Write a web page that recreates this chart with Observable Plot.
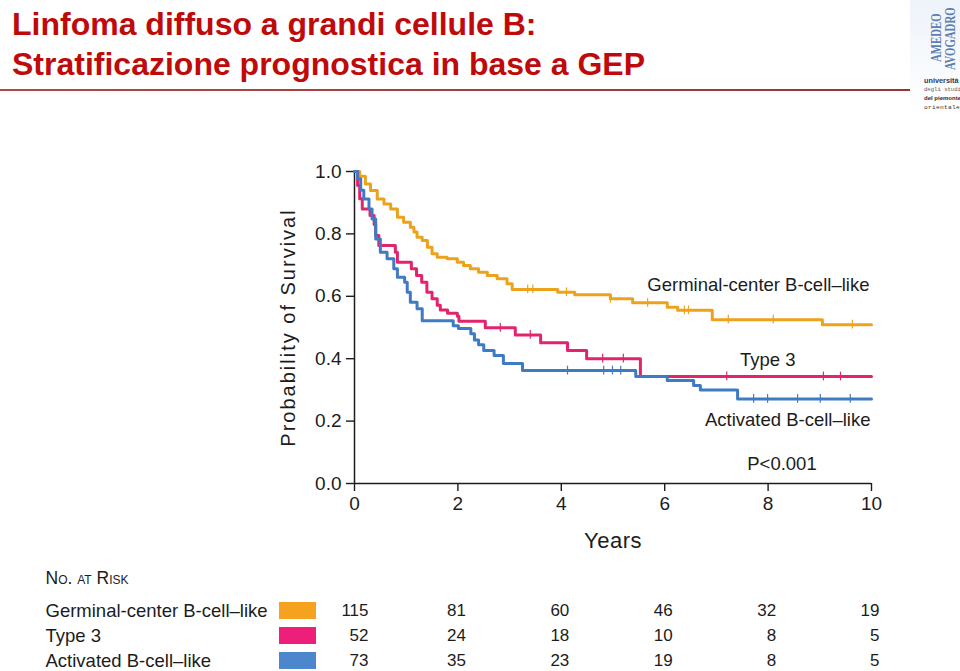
<!DOCTYPE html>
<html>
<head>
<meta charset="utf-8">
<script src="https://cdn.jsdelivr.net/npm/d3@7"></script>
<script src="https://cdn.jsdelivr.net/npm/@observablehq/plot@0.6"></script>
<style>
  body { margin: 0; background: #fff; width: 960px; height: 671px; overflow: hidden; font-family: "Liberation Sans", Arial, sans-serif; }
  #head { position: relative; height: 95px; }
  #title { position: absolute; left: 12px; top: 4px; font-weight: bold; font-size: 32px; line-height: 40px; color: #c00a0a; white-space: nowrap; }
  #rule { position: absolute; left: 0; top: 89px; width: 910px; height: 2px; background: linear-gradient(90deg, #b04848, #9a3434); }
  #logo { position: absolute; left: 910px; top: 0; width: 50px; height: 115px; background: linear-gradient(180deg, #eef3fa, #ffffff); overflow: hidden; }
  .v { position: absolute; transform: rotate(-90deg) scaleX(0.72); transform-origin: left top; font-family: "Liberation Serif", serif; font-weight: bold; color: #5b7fb3; white-space: nowrap; font-size: 15px; line-height: 15px; }
  .u { position: absolute; left: 14px; top: 76px; white-space: nowrap; line-height: 9px; }
  .u div { height: 9px; }
  .u .b1 { font-family: "Liberation Sans", sans-serif; font-weight: bold; font-size: 7.3px; color: #2e3a5a; }
  .u .m1 { font-family: "Liberation Mono", monospace; font-size: 5.6px; color: #6a5a4a; }
  .u .b2 { font-family: "Liberation Sans", sans-serif; font-weight: bold; font-size: 6px; color: #2e2a3a; }
  .u .m2 { font-family: "Liberation Mono", monospace; font-size: 6.2px; letter-spacing: 0.3px; color: #3a3030; }
  [aria-label="y-axis label"] { font-size: 20px; letter-spacing: 2px; }
  [aria-label="x-axis label"] { font-size: 22px; letter-spacing: 0.5px; }
</style>
</head>
<body>
<div id="head">
  <div id="title">Linfoma diffuso a grandi cellule B:<br>Stratificazione prognostica in base a GEP</div>
  <div id="rule"></div>
  <div id="logo">
    <div class="v" style="left:19px; top:62px;">AMEDEO</div>
    <div class="v" style="left:33px; top:70px;">AVOGADRO</div>
    <div class="u">
      <div class="b1">università</div>
      <div class="m1">degli studi</div>
      <div class="b2">del piemonte</div>
      <div class="m2">orientale</div>
    </div>
  </div>
</div>
<div id="main"></div>
<div id="table"></div>
<script>
// ---- data ----
const groups = ["Germinal-center B-cell\u2013like", "Type 3", "Activated B-cell\u2013like"];
const lineColors = ["#eda21c", "#e2246f", "#3f7bc4"];
const swatchColors = ["#f5a21f", "#ee1f7b", "#4c86cc"];

const xTicks = [0, 2, 4, 6, 8, 10];
const yTicks = [0, 0.2, 0.4, 0.6, 0.8, 1.0];

// Germinal-center B-cell-like (Kaplan-Meier steps)
const gcbTime = [0, 0.1, 0.21, 0.31, 0.44, 0.57, 0.7, 0.83, 0.95, 1.08, 1.15, 1.21, 1.31, 1.41, 1.5, 1.6, 1.79, 1.99, 2.11, 2.24, 2.4, 2.57, 2.76, 2.95, 3.05, 3.93, 4.26, 4.95, 5.38, 6.05, 6.25, 6.92, 9.05, 10];
const gcbSurv = [1.0, 0.985, 0.96, 0.939, 0.912, 0.896, 0.88, 0.853, 0.837, 0.821, 0.806, 0.789, 0.779, 0.757, 0.736, 0.725, 0.72, 0.709, 0.699, 0.688, 0.677, 0.667, 0.656, 0.64, 0.622, 0.613, 0.605, 0.592, 0.579, 0.565, 0.555, 0.525, 0.509, 0.509];
const gcbCensor = [3.35, 3.45, 4.1, 4.95, 5.67, 6.38, 6.46, 7.23, 8.1, 9.63];

// Type 3
const t3Time = [0, 0.06, 0.1, 0.15, 0.3, 0.38, 0.41, 0.47, 0.79, 0.83, 1.1, 1.2, 1.3, 1.4, 1.5, 1.6, 1.66, 1.8, 1.99, 2.02, 2.53, 3.11, 3.6, 4.12, 4.49, 5.53, 10];
const t3Surv = [1.0, 0.955, 0.913, 0.88, 0.859, 0.83, 0.795, 0.763, 0.741, 0.709, 0.688, 0.667, 0.645, 0.613, 0.592, 0.571, 0.556, 0.546, 0.536, 0.52, 0.499, 0.476, 0.451, 0.426, 0.40, 0.343, 0.343];
const t3Censor = [2.82, 3.4, 4.8, 5.2, 7.2, 9.07, 9.4];

// Activated B-cell-like
const abcTime = [0, 0.06, 0.12, 0.18, 0.28, 0.34, 0.41, 0.5, 0.63, 0.76, 0.83, 0.97, 1.02, 1.08, 1.21, 1.31, 1.91, 2.01, 2.25, 2.32, 2.4, 2.5, 2.7, 2.88, 3.25, 5.44, 6.05, 6.56, 6.69, 7.41, 10];
const abcSurv = [1.0, 0.977, 0.94, 0.912, 0.88, 0.848, 0.784, 0.741, 0.72, 0.688, 0.661, 0.645, 0.613, 0.581, 0.56, 0.522, 0.506, 0.497, 0.48, 0.46, 0.445, 0.426, 0.41, 0.385, 0.362, 0.343, 0.33, 0.314, 0.30, 0.271, 0.271];
const abcCensor = [4.12, 4.82, 4.99, 5.15, 7.72, 7.99, 8.57, 9.01, 9.59];

// Number at risk
const riskGCB = [115, 81, 60, 46, 32, 19];
const riskT3 = [52, 24, 18, 10, 8, 5];
const riskABC = [73, 35, 23, 19, 8, 5];

const pLabel = "P<0.001";
const tableTitle = "No. at Risk";

// ---- build tables for the library ----
const series = [
  {group: groups[0], time: gcbTime, surv: gcbSurv, censor: gcbCensor, risk: riskGCB},
  {group: groups[1], time: t3Time, surv: t3Surv, censor: t3Censor, risk: riskT3},
  {group: groups[2], time: abcTime, surv: abcSurv, censor: abcCensor, risk: riskABC}
];
function survAt(sr, t) {
  let s = sr.surv[0];
  for (let i = 0; i < sr.time.length; i++) if (sr.time[i] <= t) s = sr.surv[i];
  return s;
}
const curveData = series.flatMap(sr => sr.time.map((t, i) => ({group: sr.group, t, s: sr.surv[i]})));
const censorData = series.flatMap(sr => sr.censor.map(t => ({group: sr.group, t, s: survAt(sr, t)})));
const riskRows = series.flatMap(sr => sr.risk.map((n, j) => ({group: sr.group, year: xTicks[j], n, j})));

const font = "'Liberation Sans', Arial, sans-serif";
const ink = "#1c1c1c";

const main = Plot.plot({
  width: 960, height: 460,
  marginTop: 76, marginRight: 89, marginBottom: 72, marginLeft: 354,
  style: {fontFamily: font, fontSize: "19px", color: ink, background: "transparent", overflow: "visible"},
  x: {domain: [0, 10]},
  y: {domain: [0, 1]},
  color: {domain: groups, range: lineColors},
  marks: [
    Plot.axisX({ticks: xTicks, tickFormat: d => String(d), tickSize: 8, tickPadding: 5, strokeWidth: 1.4,
      label: "Years", labelAnchor: "center", labelOffset: 64, labelArrow: "none", fontSize: 19}),
    Plot.axisY({ticks: yTicks, tickFormat: d => d.toFixed(1), tickSize: 8, tickPadding: 5, strokeWidth: 1.4,
      label: "Probability of Survival", labelAnchor: "center", labelOffset: 74, labelArrow: "none", fontSize: 19}),
    Plot.ruleX([0], {stroke: ink, strokeWidth: 1.5}),
    Plot.ruleY([0], {stroke: ink, strokeWidth: 1.5}),
    Plot.line(curveData, {x: "t", y: "s", z: "group", stroke: "group", curve: "step-after", strokeWidth: 3}),
    Plot.ruleX(censorData, {x: "t", y1: d => d.s - 0.014, y2: d => d.s + 0.014, stroke: "group", strokeWidth: 1.2}),
    Plot.text([groups[0]], {x: 9.96, y: 0.635, text: d => d, textAnchor: "end", fill: ink, fontSize: 18.5}),
    Plot.text([groups[1]], {x: 8.53, y: 0.397, text: d => d, textAnchor: "end", fill: ink, fontSize: 18.5}),
    Plot.text([groups[2]], {x: 9.98, y: 0.202, text: d => d, textAnchor: "end", fill: ink, fontSize: 18.5}),
    Plot.text([pLabel], {x: 8.94, y: 0.061, text: d => d, textAnchor: "end", fill: ink, fontSize: 18.5})
  ]
});
document.getElementById("main").appendChild(main);

const table = Plot.plot({
  width: 960, height: 116,
  marginTop: 0, marginRight: 0, marginBottom: 0, marginLeft: 45,
  style: {fontFamily: font, fontSize: "18px", color: ink, background: "transparent", overflow: "visible"},
  x: {domain: [0, 10], range: [354, 871], axis: null},
  y: {type: "band", domain: groups, range: [41.6, 118.85], paddingInner: 0.32, paddingOuter: 0.16, axis: null},
  color: {domain: groups, range: swatchColors},
  marks: [
    Plot.text([tableTitle], {frameAnchor: "top-left", text: d => d, textAnchor: "start", dy: 16, fontVariant: "small-caps", fill: ink, fontSize: 17.5}),
    Plot.text(groups, {y: d => d, text: d => d, frameAnchor: "left", textAnchor: "start", fill: ink, fontSize: 18.5}),
    Plot.cell(groups, {y: d => d, fill: d => d, insetLeft: 234, insetRight: 644}),
    Plot.text(riskRows.filter(d => d.j === 0), {x: "year", y: "group", text: "n", textAnchor: "end", dx: 14, fill: ink, fontSize: 17}),
    Plot.text(riskRows.filter(d => d.j > 0), {x: "year", y: "group", text: "n", textAnchor: "end", dx: 8, fill: ink, fontSize: 17})
  ]
});
document.getElementById("table").appendChild(table);
</script>
</body>
</html>
